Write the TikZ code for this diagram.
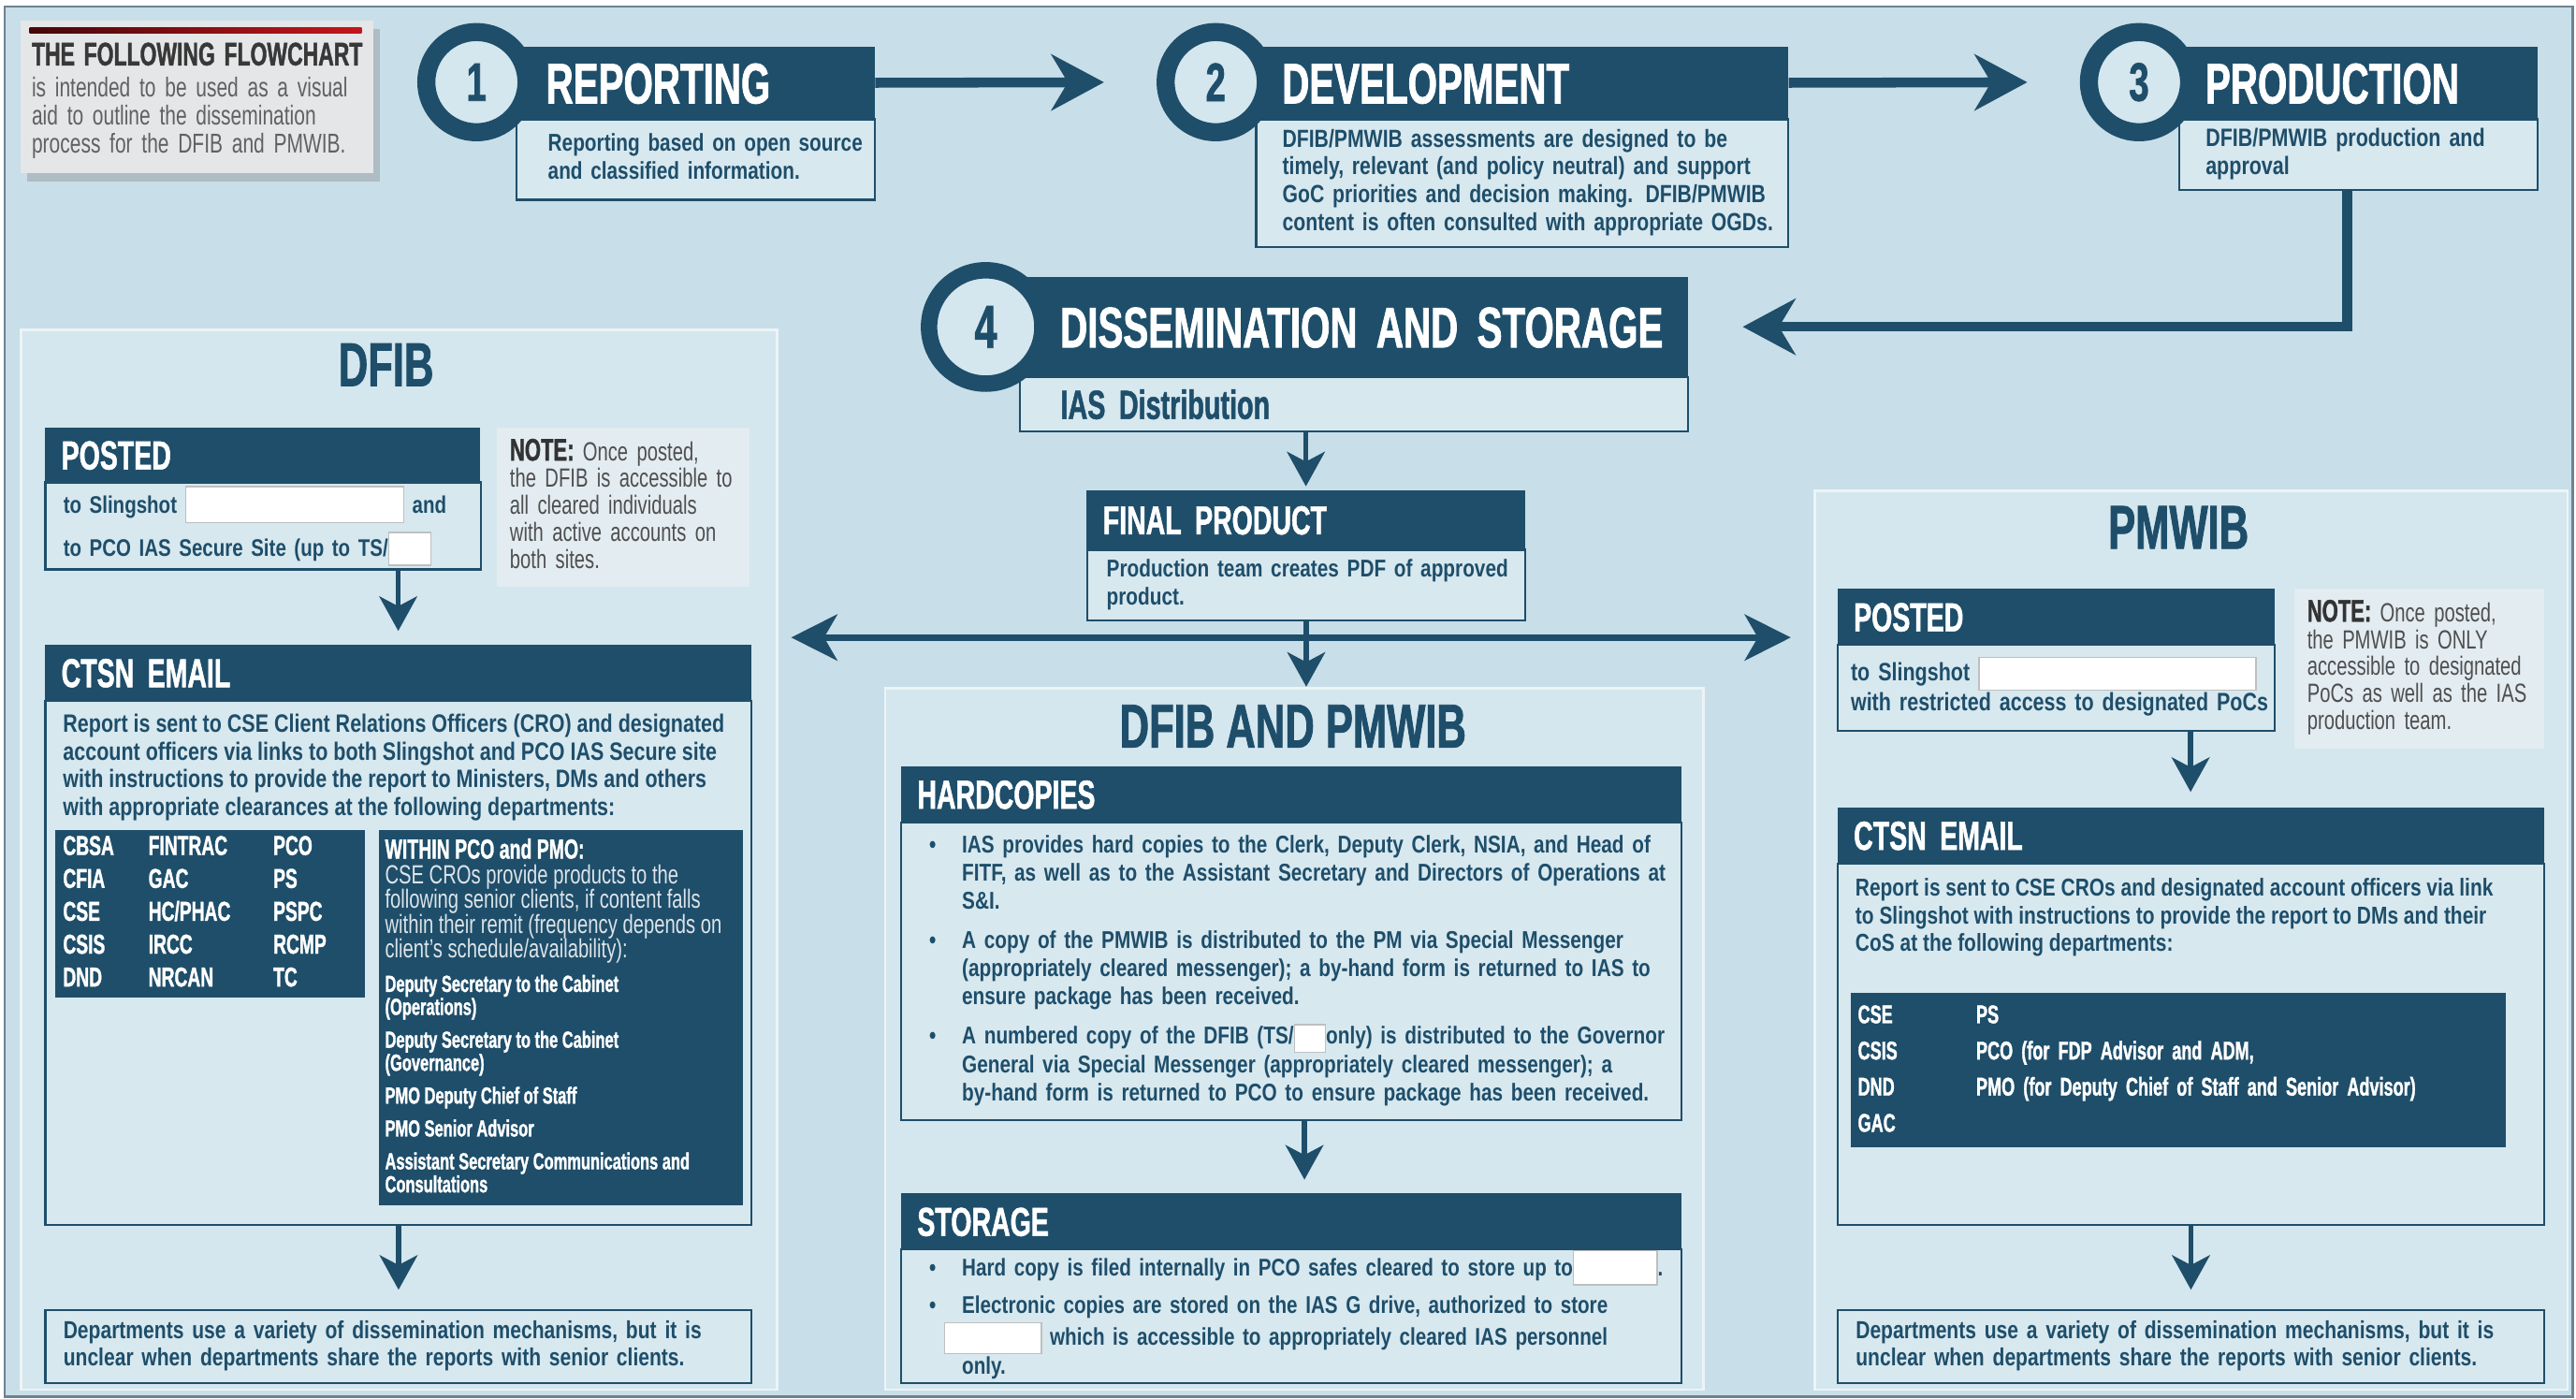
\documentclass[tikz,border=0pt]{standalone}
\usepackage{fontspec}
\setmainfont{Liberation Sans}
\newfontfamily\titlef{Liberation Sans}[FakeStretch=0.66,BoldFeatures={FakeBold=1.2}]
\newfontfamily\bodyf{Liberation Sans}[FakeStretch=0.8]
\newfontfamily\notef{Liberation Sans}[FakeStretch=0.72]
\usetikzlibrary{positioning,arrows.meta,shadows}
\definecolor{bgblue}{HTML}{C8DEE8}
\definecolor{panelblue}{HTML}{D4E6EE}
\definecolor{boxblue}{HTML}{D7E8EF}
\definecolor{inkblue}{HTML}{1E4E6A}
\definecolor{notefill}{HTML}{E2ECF1}
\definecolor{notegrey}{HTML}{4F4F4F}
\definecolor{introfill}{HTML}{E5E6E8}
\definecolor{introred}{HTML}{C4161C}
\definecolor{framegrey}{HTML}{6E8290}
\newcommand\setfs[2]{\fontsize{#1}{#2}\selectfont}
\newcommand\textrows[1]{\begin{tabular}{@{}l@{}}#1\end{tabular}}
\newcommand\blankbox[2]{{\setlength{\fboxsep}{0pt}\setlength{\fboxrule}{0.4pt}\fcolorbox{black!25}{white}{\rule[-2.5pt]{0pt}{#2}\hspace*{#1}}}}
\begin{document}
\begin{tikzpicture}[x=0.5pt,y=-0.5pt,
  hdr/.style={fill=inkblue,text=white,anchor=north west,inner xsep=5pt,inner ysep=0pt,minimum height=17pt,text width=#1,align=left,font=\titlef\bfseries\setfs{12.3}{13},text height=8.8pt,text depth=0pt},
  body/.style={draw=inkblue,fill=boxblue,line width=0.6pt,text=inkblue,anchor=north west,align=left,inner ysep=0pt,font=\bodyf\bfseries\setfs{7.65}{8.5}},
  stepbar/.style={fill=inkblue,text=white,anchor=north west,inner ysep=0pt,align=left,font=\titlef\bfseries\setfs{17.4}{18},text height=12.5pt,text depth=0pt},
  stepdisc/.style={circle,fill=panelblue,draw=inkblue,text=inkblue,inner sep=0pt,font=\titlef\bfseries\setfs{16.5}{17}},
  panel/.style={fill=panelblue,draw=white!55!panelblue,line width=0.8pt,anchor=north west,inner sep=0pt},
  paneltitle/.style={text=inkblue,font=\titlef\bfseries\setfs{18.8}{19}},
  note/.style={fill=notefill,text=notegrey,anchor=north west,align=left,inner xsep=4pt,font=\notef\setfs{8}{8}},
  darktab/.style={fill=inkblue,text=white,anchor=north west,align=left,inner ysep=0pt},
  txt/.style={inner sep=0pt,anchor=north west,align=left,text=inkblue,font=\bodyf\bfseries\setfs{7.65}{8.5}},
  bigarrow/.style={draw=inkblue,line width=3pt,-{Stealth[length=16pt,width=17pt,inset=5pt]}},
  dblarrow/.style={draw=inkblue,line width=2pt,{Stealth[length=14pt,width=14pt,inset=4pt]}-{Stealth[length=14pt,width=14pt,inset=4pt]}},
  downarrow/.style={draw=inkblue,line width=1.6pt,-{Stealth[length=10.5pt,width=11.5pt,inset=3pt]}}]
\useasboundingbox (0,0) rectangle (1568,851);
\fill[white] (0,0) rectangle (1568,851);
\fill[bgblue] (3,4) rectangle (1566,851);
\draw[framegrey,line width=0.7pt] (3,4) rectangle (1566,850);

\node[fill=introfill,anchor=north west,inner xsep=3.5pt,text width=100.5pt,minimum height=46.5pt,align=left,
  drop shadow={shadow xshift=2pt,shadow yshift=-2.5pt,opacity=0.35},text=black!62,font=\notef\setfs{8.3}{8.25}] (intro) at (12,12)
  {\textrows{\rule{0pt}{10pt}{\titlef\bfseries\setfs{9.9}{10}\color{black!78}THE FOLLOWING FLOWCHART}\\[1.2pt]is intended to be used as a visual\\aid to outline the dissemination\\process for the DFIB and PMWIB.}};
\shade[left color=introred!35!black,right color=introred] ([shift={(6,5)}]intro.north west) rectangle ++(202,3);

\node[panel,minimum width=230pt,minimum height=322.5pt] (dfibpanel) at (12,200) {};
\node[panel,minimum width=249pt,minimum height=213.5pt] (midpanel) at (538,418) {};
\node[panel,minimum width=229pt,minimum height=273.5pt] (pmwibpanel) at (1104,298) {};

\node[body,text width=90pt,inner xsep=9.5pt,minimum height=24.5pt,font=\bodyf\bfseries\setfs{7.4}{8.5}] (body1) at (314,72) {\textrows{Reporting based on open source\\and classified information.}};
\node[stepbar,inner xsep=16pt,text width=84pt,minimum height=22pt] (bar1) at (300,28) {REPORTING};
\node[stepdisc,line width=5.5pt,minimum size=30.5pt] (disc1) at (290,50) {1};

\node[body,text width=146pt,inner xsep=8pt,minimum height=39pt,font=\bodyf\bfseries\setfs{7.55}{8.5}] (body2) at (764,72) {\textrows{DFIB/PMWIB assessments are designed to be\\timely, relevant (and policy neutral) and support\\GoC priorities and decision making. DFIB/PMWIB\\content is often consulted with appropriate OGDs.}};
\node[stepbar,inner xsep=16pt,text width=138pt,minimum height=22pt] (bar2) at (748,28) {DEVELOPMENT};
\node[stepdisc,line width=5.5pt,minimum size=30.5pt] (disc2) at (740,50) {2};

\node[body,text width=93pt,inner xsep=8pt,minimum height=21.5pt] (body3) at (1326,72) {\textrows{DFIB/PMWIB production and\\approval}};
\node[stepbar,inner xsep=16pt,text width=85pt,minimum height=22pt] (bar3) at (1310,28) {PRODUCTION};
\node[stepdisc,line width=5.5pt,minimum size=30.5pt] (disc3) at (1302,50) {3};

\node[body,text width=178.5pt,inner xsep=12.5pt,minimum height=16.5pt,font=\titlef\bfseries\setfs{12.4}{13}] (sub4) at (620,229) {IAS Distribution};
\node[stepbar,inner xsep=12.5pt,text width=178.5pt,minimum height=30.5pt] (bar4) at (620,168) {\mbox{DISSEMINATION AND STORAGE}};
\node[stepdisc,line width=5pt,minimum size=34.5pt,font=\titlef\bfseries\setfs{18.5}{19}] (disc4) at (600,199) {4};

\node[body,text width=121.5pt,inner xsep=6pt,minimum height=21.5pt,font=\bodyf\bfseries\setfs{7.4}{8.5}] (finbody) at (661,334) {\textrows{Production team creates PDF of approved\\product.}};
\node[hdr=123.5pt,minimum height=18pt] (finhdr) at (661,298) {FINAL PRODUCT};

\node[paneltitle] (dfibtitle) at (235,222) {DFIB};
\node[body,text width=121.5pt,inner xsep=5.5pt,minimum height=26.5pt,font=\bodyf\bfseries\setfs{7.3}{8.5}] (post1body) at (27,293) {\textrows{to Slingshot \blankbox{66pt}{10.5pt} and\\[3pt]to PCO IAS Secure Site (up to TS/\blankbox{12.5pt}{9.5pt}}};
\node[hdr=122.5pt,minimum height=16.5pt] (post1hdr) at (27,260) {POSTED};
\node[note,text width=69pt,minimum height=43pt] (note1) at (302,260) {\textrows{{\titlef\bfseries\setfs{9.5}{8}\color{black!80}NOTE:} Once posted,\\the DFIB is accessible to\\all cleared individuals\\with active accounts on\\both sites.}};

\node[body,minimum width=215pt,minimum height=159.5pt,inner sep=0pt] (ctsn1body) at (27,426) {};
\node[hdr=205pt] (ctsn1hdr) at (27,392) {CTSN EMAIL};
\node[txt] (ctsn1text) at (38,434) {Report is sent to CSE Client Relations Officers (CRO) and designated\\account officers via links to both Slingshot and PCO IAS Secure site\\with instructions to provide the report to Ministers, DMs and others\\with appropriate clearances at the following departments:};
\node[darktab,text width=89.5pt,inner xsep=2.5pt,minimum height=51pt,font=\titlef\bfseries\setfs{8.3}{10}] (dept1) at (33,505) {\begin{tabular}{@{}p{26pt}@{}p{38pt}@{}l@{}}CBSA&FINTRAC&PCO\\CFIA&GAC&PS\\CSE&HC/PHAC&PSPC\\CSIS&IRCC&RCMP\\DND&NRCAN&TC\end{tabular}};
\node[darktab,minimum width=111pt,minimum height=114pt,inner sep=0pt] (within1) at (230,505) {};
\node[txt,text=white,font=\titlef\bfseries\setfs{8.4}{8}] (within1head) at (234,510) {WITHIN PCO and PMO:};
\node[txt,text=white!85!inkblue,font={\notef\setfs{8}{7.5}\lineskiplimit=-10pt}] (within1text) at (234,526) {CSE CROs provide products to the\\following senior clients, if content falls\\within their remit (frequency depends on\\client’s schedule/availability):};
\node[txt,text=white,font=\titlef\bfseries\setfs{7.1}{7}] (within1list) at (234,593) {Deputy Secretary to the Cabinet\\(Operations)\\[3pt]Deputy Secretary to the Cabinet\\(Governance)\\[3pt]PMO Deputy Chief of Staff\\[3pt]PMO Senior Advisor\\[3pt]Assistant Secretary Communications and\\Consultations};
\node[body,text width=204pt,inner xsep=5.5pt,minimum height=22pt,font=\bodyf\bfseries\setfs{7.5}{8.5}] (bot1) at (27,797) {\textrows{Departments use a variety of dissemination mechanisms, but it is\\unclear when departments share the reports with senior clients.}};

\node[paneltitle] (midtitle) at (787,442) {DFIB AND PMWIB};
\node[body,text width=220.5pt,inner xsep=8.5pt,minimum height=90.5pt,font=\bodyf\bfseries\setfs{7.4}{8.5}] (hardbody) at (548,500) {\begin{tabular}{@{}p{10pt}@{}l@{}}
\textbullet&IAS provides hard copies to the Clerk, Deputy Clerk, NSIA, and Head of\\
&FITF, as well as to the Assistant Secretary and Directors of Operations at\\
&S\&I.\\[3.5pt]
\textbullet&A copy of the PMWIB is distributed to the PM via Special Messenger\\
&(appropriately cleared messenger); a by-hand form is returned to IAS to\\
&ensure package has been received.\\[3.5pt]
\textbullet&A numbered copy of the DFIB (TS/\blankbox{9pt}{8pt}only) is distributed to the Governor\\
&General via Special Messenger (appropriately cleared messenger); a\\
&by-hand form is returned to PCO to ensure package has been received.
\end{tabular}};
\node[hdr=227.5pt] (hardhdr) at (548,466) {HARDCOPIES};
\node[body,text width=220.5pt,inner xsep=8.5pt,minimum height=40.5pt,font=\bodyf\bfseries\setfs{7.35}{8.5}] (storbody) at (548,760) {\begin{tabular}{@{}p{10pt}@{}l@{}}
\textbullet&Hard copy is filed internally in PCO safes cleared to store up to\blankbox{25pt}{10pt}.\\[3pt]
\textbullet&Electronic copies are stored on the IAS G drive, authorized to store\\
&\hspace*{-5.5pt}\blankbox{29pt}{9pt} which is accessible to appropriately cleared IAS personnel\\
&only.
\end{tabular}};
\node[hdr=227.5pt] (storhdr) at (548,726) {STORAGE};

\node[paneltitle] (pmwibtitle) at (1326,321) {PMWIB};
\node[body,text width=125pt,inner xsep=4pt,minimum height=26pt] (post2body) at (1118,392) {\textrows{to Slingshot \blankbox{84pt}{9.5pt}\\with restricted access to designated PoCs}};
\node[hdr=123pt] (post2hdr) at (1118,358) {POSTED};
\node[note,text width=68pt,minimum height=43.5pt] (note2) at (1396,358) {\textrows{{\titlef\bfseries\setfs{9.5}{8}\color{black!80}NOTE:} Once posted,\\the PMWIB is ONLY\\accessible to designated\\PoCs as well as the IAS\\production team.}};
\node[body,minimum width=215pt,minimum height=110pt,inner sep=0pt] (ctsn2body) at (1118,525) {};
\node[hdr=205pt] (ctsn2hdr) at (1118,491) {CTSN EMAIL};
\node[txt,font=\bodyf\bfseries\setfs{7.45}{8.5}] (ctsn2text) at (1129,534) {Report is sent to CSE CROs and designated account officers via link\\to Slingshot with instructions to provide the report to DMs and their\\CoS at the following departments:};
\node[darktab,text width=195pt,inner xsep=2.25pt,minimum height=47pt,font=\titlef\bfseries\setfs{7.8}{11}] (dept2) at (1126,604) {\begin{tabular}{@{}p{36pt}@{}l@{}}CSE&PS\\CSIS&PCO (for FDP Advisor and ADM,\\DND&PMO (for Deputy Chief of Staff and Senior Advisor)\\GAC&\end{tabular}};
\node[body,text width=204pt,inner xsep=5.5pt,minimum height=22pt,font=\bodyf\bfseries\setfs{7.5}{8.5}] (bot2) at (1118,797) {\textrows{Departments use a variety of dissemination mechanisms, but it is\\unclear when departments share the reports with senior clients.}};

\coordinate (split) at (794,388);
\draw[bigarrow,shorten >=16pt] (bar1.east) -- (disc2.west);
\draw[bigarrow,shorten >=16pt] (bar2.east) -- (disc3.west);
\draw[bigarrow,shorten >=16.5pt] ([xshift=-3.5pt]body3.south) |- (bar4.east);
\draw[downarrow,shorten >=1pt] (sub4.south -| finhdr.north) -- (finhdr.north);
\draw[dblarrow,shorten <=4pt,shorten >=7pt] (split -| dfibpanel.east) -- (split -| pmwibpanel.west);
\draw[downarrow] (finbody.south) -- (finbody.south |- midpanel.north);
\draw[downarrow,shorten >=4pt] (post1body.south -| ctsn1hdr.north) -- (ctsn1hdr.north);
\draw[downarrow,shorten >=6pt] (ctsn1body.south) -- (bot1.north);
\draw[downarrow,shorten >=4pt] (hardbody.south -| split) -- (storhdr.north -| split);
\draw[downarrow,shorten >=4.5pt] (post2body.south -| ctsn2hdr.north) -- (ctsn2hdr.north);
\draw[downarrow,shorten >=6pt] (ctsn2body.south) -- (bot2.north);
\end{tikzpicture}
\end{document}
